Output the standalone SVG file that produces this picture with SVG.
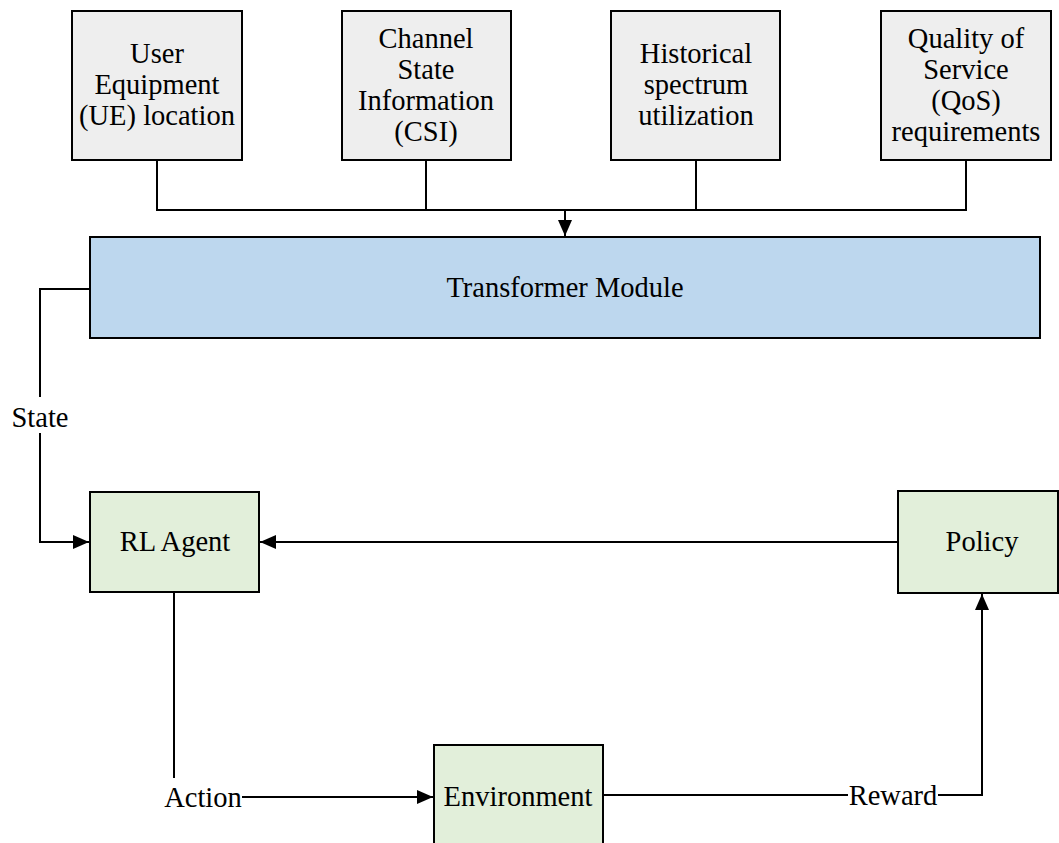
<svg xmlns="http://www.w3.org/2000/svg" width="1059" height="843" viewBox="0 0 1059 843">
<style>
.box{stroke:#000;stroke-width:2}
.in{fill:#eeeeee}
.tr{fill:#bdd7ee}
.gr{fill:#e2efda}
.t{font-family:"Liberation Serif","Times New Roman",serif;font-size:28.5px;fill:#000;text-anchor:middle}
.c{fill:none;stroke:#000;stroke-width:2}
</style>
<defs>
<marker id="a2" viewBox="0 0 16 14" refX="16" refY="7" markerWidth="16" markerHeight="14" markerUnits="userSpaceOnUse" orient="auto">
<path d="M0,0 L16,7 L0,14 z" fill="#000"/>
</marker>
</defs>
<rect width="1059" height="843" fill="#fff"/>
<g id="connectors">
<path class="c" d="M157,160 V210 H966 V160"/>
<path class="c" d="M426,160 V210"/>
<path class="c" d="M696,160 V210"/>
<path class="c" d="M565,210 V236" marker-end="url(#a2)"/>
<path class="c" d="M90,289 H40 V397"/>
<path class="c" d="M40,433 V542 H89" marker-end="url(#a2)"/>
<path class="c" d="M898,542 H260" marker-end="url(#a2)"/>
<path class="c" d="M174,592 V778"/>
<path class="c" d="M242,797 H433" marker-end="url(#a2)"/>
<path class="c" d="M603,795 H848"/>
<path class="c" d="M938,795 H982 V594" marker-end="url(#a2)"/>
<text class="t" x="40" y="427">State</text>
<text class="t" x="203" y="807">Action</text>
<text class="t" x="893" y="805">Reward</text>
</g>
<g id="ue">
<rect class="box in" x="72" y="11" width="170" height="149"/>
<text class="t" x="157" y="63">User</text>
<text class="t" x="157" y="94">Equipment</text>
<text class="t" x="157" y="125">(UE) location</text>
</g>
<g id="csi">
<rect class="box in" x="342" y="11" width="169" height="149"/>
<text class="t" x="426" y="48">Channel</text>
<text class="t" x="426" y="79">State</text>
<text class="t" x="426" y="110">Information</text>
<text class="t" x="426" y="141">(CSI)</text>
</g>
<g id="hist">
<rect class="box in" x="611" y="11" width="169" height="149"/>
<text class="t" x="696" y="63">Historical</text>
<text class="t" x="696" y="94">spectrum</text>
<text class="t" x="696" y="125">utilization</text>
</g>
<g id="qos">
<rect class="box in" x="881" y="11" width="170" height="149"/>
<text class="t" x="966" y="48">Quality of</text>
<text class="t" x="966" y="79">Service</text>
<text class="t" x="966" y="110">(QoS)</text>
<text class="t" x="966" y="141">requirements</text>
</g>
<g id="transformer">
<rect class="box tr" x="90" y="237" width="950" height="101"/>
<text class="t" x="565" y="297">Transformer Module</text>
</g>
<g id="rlagent">
<rect class="box gr" x="90" y="492" width="169" height="100"/>
<text class="t" x="175" y="551">RL Agent</text>
</g>
<g id="policy">
<rect class="box gr" x="898" y="491" width="160" height="102"/>
<text class="t" x="982" y="551">Policy</text>
</g>
<g id="environment">
<rect class="box gr" x="434" y="745" width="169" height="110"/>
<text class="t" x="518" y="806">Environment</text>
</g>
</svg>
